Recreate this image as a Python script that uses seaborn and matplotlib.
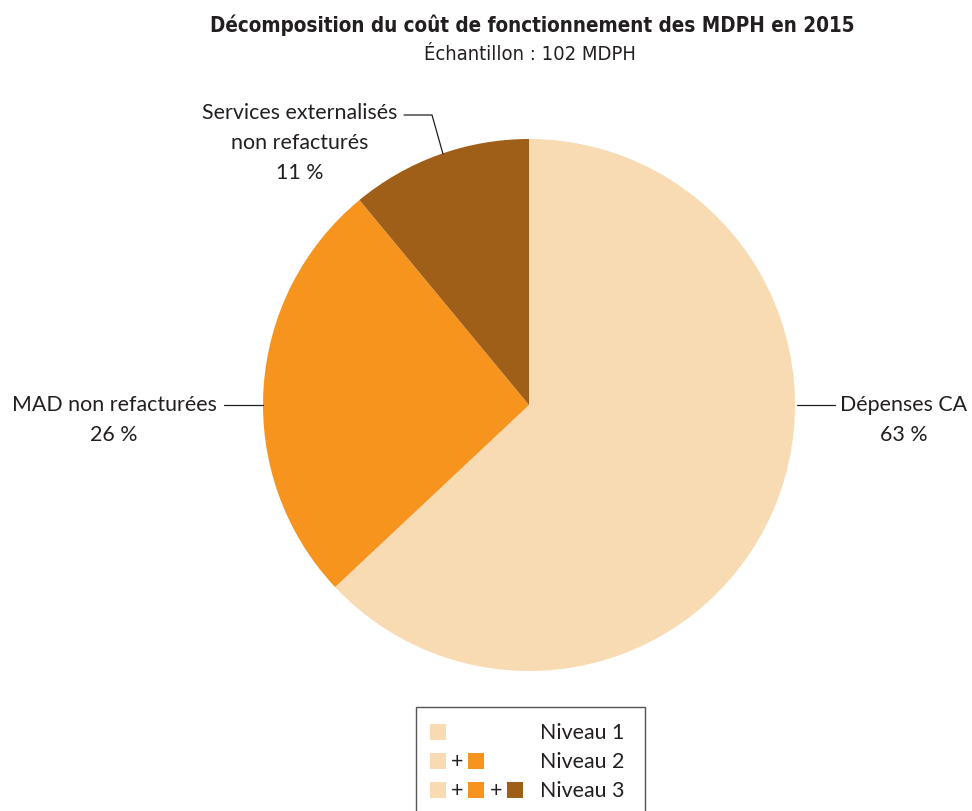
import matplotlib
matplotlib.use("Agg")
import matplotlib.pyplot as plt
from matplotlib.patches import Rectangle
import seaborn as sns

# Cost breakdown (share of operating cost, %)
categories = ["Dépenses CA", "MAD non refacturées", "Services externalisés\nnon refacturés"]
shares = [63, 26, 11]
colors_hex = ["#F8DBB3", "#F6941E", "#A05F18"]
levels = ["Niveau 1", "Niveau 2", "Niveau 3"]

title = "Décomposition du coût de fonctionnement des MDPH en 2015"
subtitle = "Échantillon : 102 MDPH"

sns.set_theme(style="white")
palette = sns.color_palette(colors_hex)
plt.rcParams["font.family"] = ["Lato", "DejaVu Sans"]

W, H = 972, 812
fig = plt.figure(figsize=(W / 100, H / 100), dpi=100)
ax = fig.add_axes([0, 0, 1, 1])

def Y(py):
    return H - py

cx, cy, r = 529, Y(406), 266
ax.pie(shares, colors=palette, startangle=90, counterclock=False,
       center=(cx, cy), radius=r, frame=True,
       wedgeprops=dict(linewidth=0))
ax.set_xlim(0, W)
ax.set_ylim(0, H)
ax.set_aspect("equal")
ax.axis("off")

txt_kw = dict(fontsize=15.4, color="#231F20", ha="center", va="center",
              linespacing=1.6)
line_kw = dict(color="#231F20", lw=0.9)

# Dépenses CA
ax.text(904, Y(420), f"{categories[0]}\n{shares[0]} %", **txt_kw)
ax.plot([797, 835], [Y(406), Y(406)], **line_kw)

# MAD
ax.text(114, Y(420), f"{categories[1]}\n{shares[1]} %", **txt_kw)
ax.plot([224, 263], [Y(406), Y(406)], **line_kw)

# Services externalisés
ax.text(300, Y(143), f"{categories[2]}\n{shares[2]} %", **txt_kw)
ax.plot([404, 432, 443], [Y(116), Y(116), Y(155)], **line_kw)

# Titles
fig.text(532 / W, 1 - 25 / H, title, ha="center", va="center",
         fontsize=14.8, fontweight="bold", color="#231F20",
         family=["DejaVu Sans"], fontstretch="condensed")
fig.text(530 / W, 1 - 55 / H, subtitle, ha="center", va="center",
         fontsize=14.5, color="#231F20", family=["DejaVu Sans"],
         fontstretch="condensed")

# Legend box with cumulative levels
ax.add_patch(Rectangle((416, Y(830)), 229, 122, fill=False,
                       edgecolor="#555555", lw=1.0, clip_on=False))
sw = 16
row_y = [733, 762, 791]
xs = [430, 468, 507]
plus_x = [457, 496]
for i, lab in enumerate(levels):
    for j in range(i + 1):
        ax.add_patch(Rectangle((xs[j], Y(row_y[i]) - sw / 2), sw, sw,
                               facecolor=palette[j], edgecolor="none"))
        if j < i:
            ax.text(plus_x[j], Y(row_y[i]), "+", fontsize=15.4,
                    color="#231F20", ha="center", va="center")
    ax.text(540, Y(row_y[i]), lab, fontsize=15.4, color="#231F20",
            ha="left", va="center")

fig.savefig("out.png", dpi=100)
